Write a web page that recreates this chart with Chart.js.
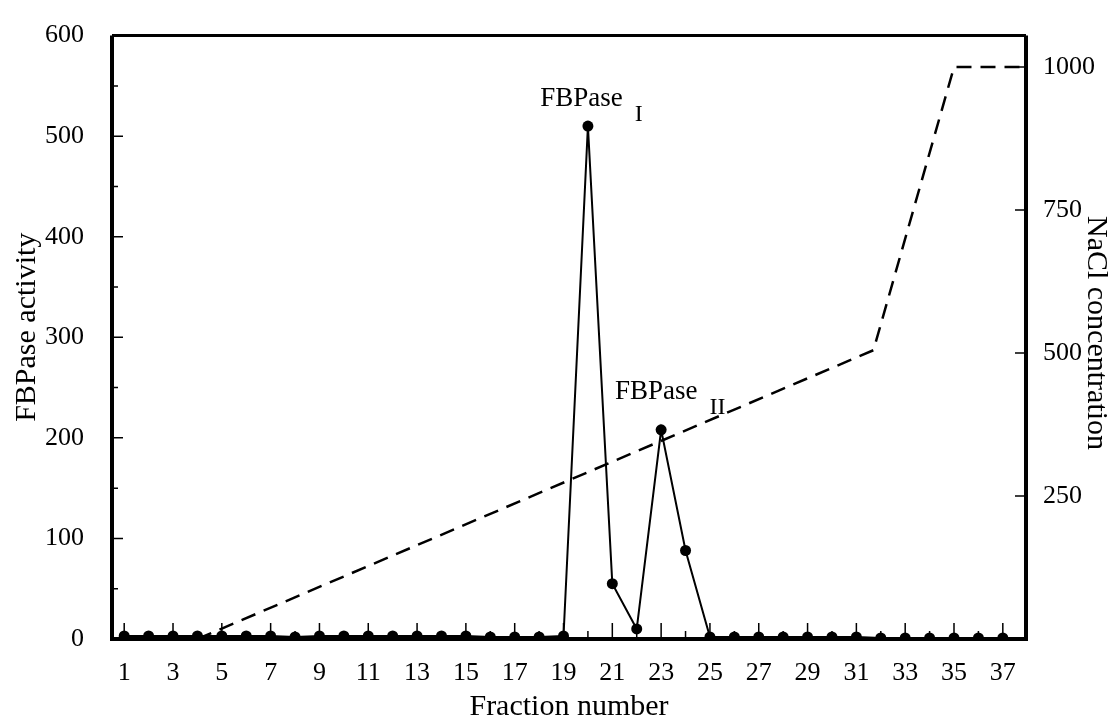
<!DOCTYPE html>
<html>
<head>
<meta charset="utf-8">
<script src="https://cdn.jsdelivr.net/npm/chart.js@4.4.1/dist/chart.umd.min.js"></script>
<style>
  html, body { margin: 0; padding: 0; background: #fff; }
  #wrap { width: 1110px; height: 715px; }
</style>
</head>
<body>
<div id="wrap"><canvas id="chart"></canvas></div>
<script>
// Fraction numbers and FBPase activity measured in each fraction
const fractions = [1, 2, 3, 4, 5, 6, 7, 8, 9, 10, 11, 12, 13, 14, 15, 16, 17, 18, 19,
    20, 21, 22, 23, 24, 25, 26, 27, 28, 29, 30, 31, 32, 33, 34, 35, 36, 37];
const activity = [3, 3, 3, 3, 3, 3, 3, 2, 3, 3, 3, 3, 3, 3, 3, 2, 2, 2, 3,
    510, 55, 10, 208, 88, 2, 2, 2, 2, 2, 2, 2, 1, 1, 1, 1, 1, 1];

// NaCl gradient (dashed line), corner points only
const naclFraction = [4, 31.7, 35, 37.9];
const naclConc = [0, 505, 1000, 1000];

// tick labels
const xTicks = [1, 3, 5, 7, 9, 11, 13, 15, 17, 19, 21, 23, 25, 27, 29, 31, 33, 35, 37];
const leftTicks = [0, 100, 200, 300, 400, 500, 600];
const rightTicks = [250, 500, 750, 1000];

// peak names
const peakNames = ['FBPase', 'FBPase'];
const peakSubs = ['I', 'II'];
const peakAt = [[19.74, 530], [22.8, 239]];

const FONT = "'Liberation Serif', 'DejaVu Serif', serif";

// frame, inward ticks, titles and peak labels
const decorPlugin = {
    id: 'decor',
    afterDraw(chart) {
        const ctx = chart.ctx;
        const a = chart.chartArea;
        const x = chart.scales.x, y = chart.scales.y, y2 = chart.scales.y2;
        ctx.save();
        ctx.strokeStyle = '#000';
        ctx.fillStyle = '#000';

        // minor / major ticks pointing into the plot
        ctx.lineWidth = 1.5;
        ctx.beginPath();
        for (let f = 1; f <= 37; f++) {
            const px = x.getPixelForValue(f);
            const len = f % 2 ? 16 : 8;
            ctx.moveTo(px, a.bottom);
            ctx.lineTo(px, a.bottom - len);
        }
        for (let v = 50; v < 600; v += 50) {
            const py = y.getPixelForValue(v);
            const len = v % 100 ? 6 : 11;
            ctx.moveTo(a.left, py);
            ctx.lineTo(a.left + len, py);
        }
        rightTicks.forEach(v => {
            const py = y2.getPixelForValue(v);
            ctx.moveTo(a.right, py);
            ctx.lineTo(a.right - 11, py);
        });
        ctx.stroke();

        // frame
        ctx.lineWidth = 4;
        ctx.beginPath();
        ctx.moveTo(a.left, a.top);
        ctx.lineTo(a.left, a.bottom);
        ctx.lineTo(a.right, a.bottom);
        ctx.lineTo(a.right, a.top);
        ctx.stroke();
        ctx.lineWidth = 3;
        ctx.beginPath();
        ctx.moveTo(a.left, a.top);
        ctx.lineTo(a.right, a.top);
        ctx.stroke();

        // axis titles
        ctx.font = '30px ' + FONT;
        ctx.textAlign = 'center';
        ctx.textBaseline = 'middle';
        ctx.save();
        ctx.translate(27, y.getPixelForValue(310));
        ctx.rotate(-Math.PI / 2);
        ctx.fillText('FBPase activity', 0, 0);
        ctx.restore();
        ctx.save();
        ctx.translate(1096, y2.getPixelForValue(535));
        ctx.rotate(Math.PI / 2);
        ctx.fillText('NaCl concentration', 0, 0);
        ctx.restore();
        ctx.textBaseline = 'alphabetic';
        ctx.fillText('Fraction number', (a.left + a.right) / 2, 715);

        // peak labels with subscripts
        peakNames.forEach((name, i) => {
            const px = x.getPixelForValue(peakAt[i][0]);
            const py = y.getPixelForValue(peakAt[i][1]);
            ctx.font = '27px ' + FONT;
            ctx.textAlign = 'center';
            ctx.fillText(name, px, py);
            const w = ctx.measureText(name).width;
            ctx.font = '24px ' + FONT;
            ctx.textAlign = 'left';
            ctx.fillText(peakSubs[i], px + w / 2 + 12, py + 15);
        });
        ctx.restore();
    }
};

const tickFont = { family: FONT, size: 26 };

new Chart(document.getElementById('chart'), {
    type: 'line',
    data: {
        datasets: [{
            label: 'FBPase activity',
            data: fractions.map((f, i) => ({ x: f, y: activity[i] })),
            borderColor: '#000',
            borderWidth: 2,
            pointRadius: 5.5,
            pointBackgroundColor: '#000',
            pointBorderWidth: 0,
            tension: 0,
            yAxisID: 'y'
        }, {
            label: 'NaCl concentration',
            data: naclFraction.map((f, i) => ({ x: f, y: naclConc[i] })),
            borderColor: '#000',
            borderWidth: 2.5,
            borderDash: [15, 9],
            pointRadius: 0,
            tension: 0,
            yAxisID: 'y2'
        }]
    },
    options: {
        responsive: true,
        maintainAspectRatio: false,
        animation: false,
        layout: { padding: { top: 22, left: 0, right: 0, bottom: 0 } },
        plugins: { legend: { display: false }, tooltip: { enabled: false } },
        scales: {
            x: {
                type: 'linear',
                min: 0.5,
                max: 37.95,
                afterBuildTicks: s => { s.ticks = xTicks.map(v => ({ value: v })); },
                afterFit: s => { s.height = 76; },
                grid: { display: false },
                border: { display: false },
                ticks: { font: tickFont, color: '#000', padding: 11, maxRotation: 0, autoSkip: false }
            },
            y: {
                position: 'left',
                min: 0,
                max: 600,
                afterBuildTicks: s => { s.ticks = leftTicks.map(v => ({ value: v })); },
                afterFit: s => { s.width = 112; },
                grid: { display: false },
                border: { display: false },
                ticks: { font: tickFont, color: '#000', padding: 20 }
            },
            y2: {
                position: 'right',
                min: 0,
                max: 1055,
                afterBuildTicks: s => { s.ticks = rightTicks.map(v => ({ value: v })); },
                afterFit: s => { s.width = 84; },
                grid: { display: false },
                border: { display: false },
                ticks: { font: tickFont, color: '#000', padding: 9, callback: v => String(v) }
            }
        }
    },
    plugins: [decorPlugin]
});
</script>
</body>
</html>
